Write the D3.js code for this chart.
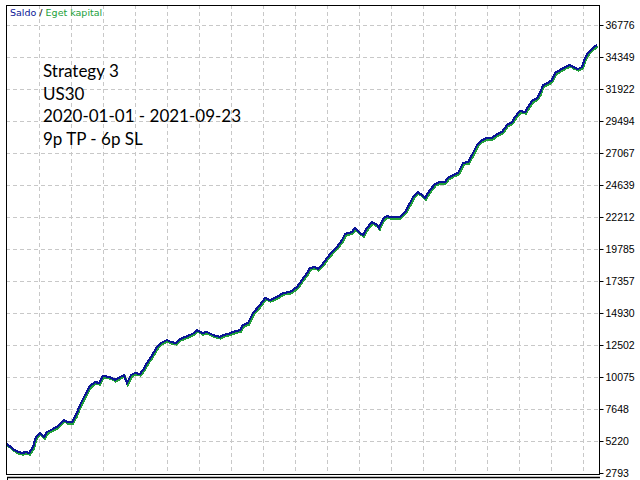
<!DOCTYPE html>
<html>
<head>
<meta charset="utf-8">
<script src="https://cdn.jsdelivr.net/npm/d3@7"></script>
<style>
  html, body { margin: 0; padding: 0; background: #fff; }
  .grid line { stroke: #c8c8c8; stroke-dasharray: 4,3; shape-rendering: crispEdges; }
  .axis text { font-family: 'Liberation Sans', Arial, sans-serif; font-size: 10.5px; fill: #000; }
  .note { font-family: Lato, 'Open Sans', sans-serif; font-size: 17px; fill: #000; }
</style>
</head>
<body>
<svg id="chart" width="640" height="480"></svg>
<script>
// trade number (x) and account balance (y)
const trades = [1, 7, 12, 16, 20, 23, 27, 30, 34, 38, 41, 47, 52, 58, 61, 66, 70, 74, 79, 84,
  89, 93, 97, 104, 109, 114, 118, 121, 125, 129, 134, 137, 141, 145, 151, 155, 161, 165, 170, 174,
  179, 184, 188, 191, 196, 201, 207, 214, 217, 222, 227, 234, 237, 242, 247, 254, 259, 264, 271, 277,
  284, 291, 296, 301, 304, 309, 312, 316, 321, 326, 331, 336, 339, 346, 349, 354, 357, 361, 366, 371,
  373, 377, 381, 384, 391, 394, 399, 404, 407, 412, 416, 419, 424, 429, 434, 439, 442, 447, 452, 457,
  462, 466, 471, 476, 481, 486, 491, 496, 501, 506, 509, 514, 519, 522, 526, 531, 534, 537, 542, 546,
  549, 554, 559, 564, 567, 572, 576, 579, 582, 587, 591];

const balance = [4993, 4614, 4386, 4310, 4386, 4310, 4765, 5524, 5827, 5524, 5903, 6131, 6358, 6813, 6662, 6662, 7193, 7951, 8710, 9392,
  9696, 9620, 10151, 10075, 9848, 10075, 10227, 9620, 10227, 10379, 10303, 10606, 11137, 11592, 12351, 12654, 12882, 12730, 12654, 12958,
  13109, 13261, 13413, 13640, 13413, 13489, 13261, 13109, 13261, 13337, 13489, 13640, 14020, 14171, 14930, 15537, 16068, 15916, 16143, 16447,
  16523, 16902, 17433, 17964, 18343, 18419, 18267, 18571, 19102, 19557, 19936, 20467, 20922, 21074, 21377, 20998, 20846, 21377, 21833, 21605,
  21377, 22060, 22288, 22212, 22212, 22212, 22591, 23274, 23729, 24108, 23880, 23653, 24260, 24715, 24867, 24867, 25170, 25398, 25550, 26308,
  26384, 26915, 27673, 28052, 28204, 28204, 28507, 28659, 29191, 29418, 29797, 30253, 30177, 30556, 31011, 31239, 31618, 32225, 32376, 32604,
  33135, 33362, 33590, 33742, 33590, 33438, 33590, 34273, 34652, 35032, 35259];

const yTicks = [2793, 5220, 7648, 10075, 12502, 14930, 17357, 19785, 22212, 24639, 27067, 29494, 31922, 34349, 36776];
const yTickLabels = ['2793', '5220', '7648', '10075', '12502', '14930', '17357', '19785', '22212', '24639', '27067', '29494', '31922', '34349', '36776'];
const xTicks = d3.range(33, 594, 32);

const noteLines = ['Strategy 3', 'US30', '2020-01-01 - 2021-09-23', '9p TP - 6p SL'];

const plot = { left: 6, right: 599, top: 5, bottom: 474 };

const svg = d3.select('#chart');

const x = d3.scaleLinear().domain([0, 593]).range([plot.left, plot.right]);
const y = d3.scaleLinear().domain([2793, 36776]).range([473, 25]);

svg.append('rect').attr('width', 640).attr('height', 480).attr('fill', '#fff');

// grid
const grid = svg.append('g').attr('class', 'grid');
grid.selectAll('.vg').data(xTicks).enter().append('line')
  .attr('x1', d => Math.round(x(d)) + 0.5).attr('x2', d => Math.round(x(d)) + 0.5)
  .attr('y1', plot.top).attr('y2', plot.bottom);
grid.selectAll('.hg').data(yTicks.slice(1)).enter().append('line')
  .attr('x1', plot.left).attr('x2', plot.right)
  .attr('y1', d => Math.round(y(d)) + 0.5).attr('y2', d => Math.round(y(d)) + 0.5);

// clip
svg.append('clipPath').attr('id', 'clip').append('rect')
  .attr('x', plot.left + 1).attr('y', plot.top + 1)
  .attr('width', plot.right - plot.left - 1).attr('height', plot.bottom - plot.top - 1);

const pts = trades.map((t, i) => [t, balance[i]]);
const line = d3.line().x(d => x(d[0])).y(d => y(d[1]));

const lines = svg.append('g').attr('clip-path', 'url(#clip)');
// equity (drawn just under the balance)
lines.append('path').datum(pts)
  .attr('d', line)
  .attr('transform', 'translate(0.8,1.6)')
  .attr('fill', 'none').attr('stroke', '#22a03a').attr('stroke-width', 2.2)
  .attr('stroke-linejoin', 'miter')
  .style('shape-rendering', 'crispEdges');
// balance
lines.append('path').datum(pts)
  .attr('d', line)
  .attr('fill', 'none').attr('stroke', '#0b1596').attr('stroke-width', 2.2)
  .attr('stroke-linejoin', 'miter')
  .style('shape-rendering', 'crispEdges');

// frame
svg.append('rect')
  .attr('x', plot.left + 0.5).attr('y', plot.top + 0.5)
  .attr('width', plot.right - plot.left).attr('height', plot.bottom - plot.top)
  .attr('fill', 'none').attr('stroke', '#000').attr('stroke-width', 1);

// bottom axis line (labels hidden)
svg.append('line')
  .attr('x1', plot.left + 1).attr('x2', plot.right + 1)
  .attr('y1', 477.5).attr('y2', 477.5)
  .attr('stroke', '#000').attr('stroke-width', 1.5);
svg.append('line')
  .attr('x1', plot.left + 1.5).attr('x2', plot.left + 1.5)
  .attr('y1', 477).attr('y2', 480)
  .attr('stroke', '#000');

// right axis
const yAxis = d3.axisRight(y)
  .tickValues(yTicks)
  .tickFormat((d, i) => yTickLabels[i])
  .tickSize(4)
  .tickPadding(2);
const ax = svg.append('g')
  .attr('class', 'axis')
  .attr('transform', `translate(${plot.right + 0.5},0)`)
  .call(yAxis);
ax.select('.domain').remove();
ax.selectAll('line').attr('stroke', '#000');

// legend
const legend = svg.append('text')
  .attr('x', 10).attr('y', 16)
  .style('font-family', "'DejaVu Sans', Verdana, sans-serif")
  .style('font-size', '9.5px');
legend.append('tspan').attr('fill', '#0b1596').text('Saldo');
legend.append('tspan').attr('fill', '#000').text(' / ');
legend.append('tspan').attr('fill', '#22a03a').text('Eget kapital');

// note block
svg.append('g').selectAll('text').data(noteLines).enter().append('text')
  .attr('class', 'note')
  .attr('x', 43)
  .attr('y', (d, i) => 77 + i * 22.7)
  .text(d => d);
</script>
</body>
</html>
